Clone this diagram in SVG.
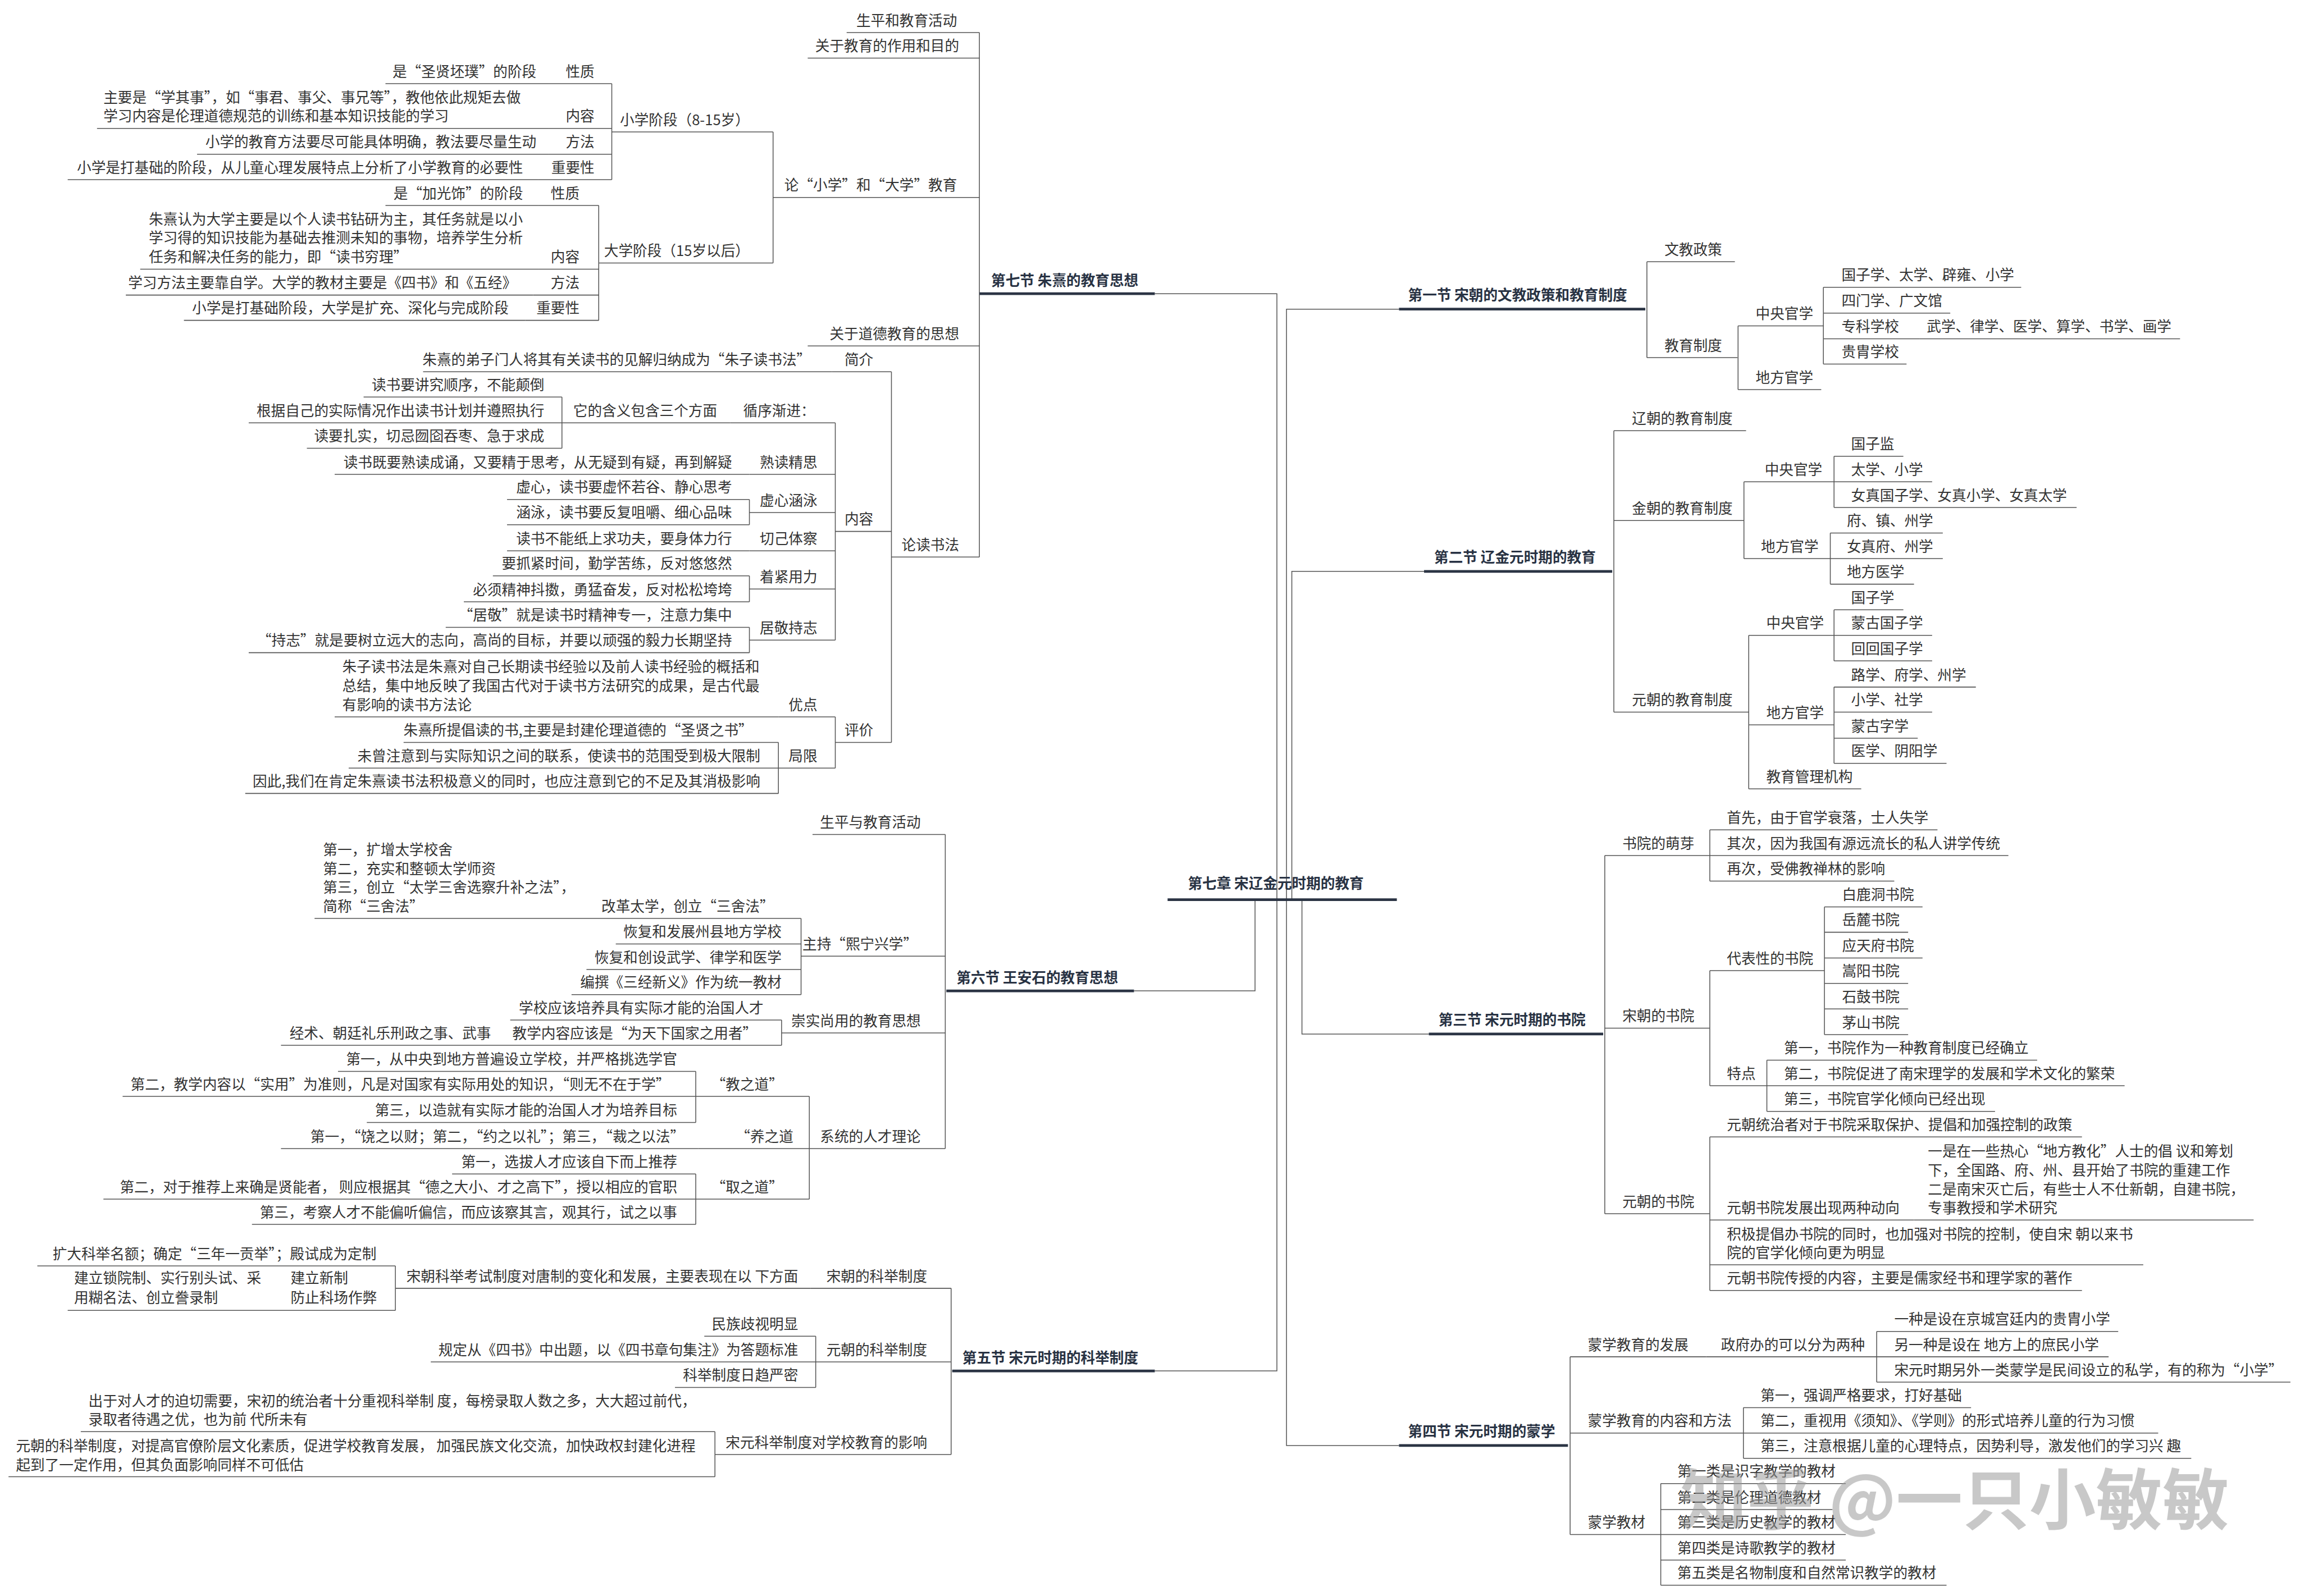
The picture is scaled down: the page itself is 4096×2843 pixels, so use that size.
<svg xmlns="http://www.w3.org/2000/svg" width="4096" height="2843" viewBox="0 0 4096 2843">
<style>
.t{font-family:"Noto Sans CJK SC","Noto Sans",sans-serif;font-size:27px;fill:#333}
.e{text-anchor:end}
.h{font-weight:700;fill:#283243}
.u{stroke:#555;stroke-width:1.6;fill:none}
.k{stroke:#2b3444;stroke-width:5;fill:none}
.c{stroke:#555;stroke-width:1.6;fill:none}
.wm{font-family:"Noto Sans CJK SC",sans-serif;font-size:125px;font-weight:700;fill:#9a9a9a;fill-opacity:0.55}
</style>
<rect width="4096" height="2843" fill="#fff"/>
<g transform="scale(0.94947)">
<g id="connectors">
<path class="c" d="M2166 551H2395V2572H2166"/>
<path class="c" d="M2127 1859H2354V1688"/>
<path class="c" d="M2624 580H2413V2712H2624"/>
<path class="c" d="M2671 1072H2423V1688"/>
<path class="c" d="M2680 1940H2442V1688"/>
<path class="c" d="M3089 491V671M3260 611.5V731M3420 539V683"/>
<path class="c" d="M3027 808V1336M3271 904V1048M3440 856V952M3433 1000V1096M3280 1192V1480M3440 1144V1240M3440 1289V1432"/>
<path class="c" d="M3010 1605V2277M3207 1557V1653M3207 1821V2037M3422 1701.5V1941M3314 1989V2085M3207 2133V2421"/>
<path class="c" d="M2945 2545.5V2879M3520 2498V2593M3270 2641V2736M3115 2783.5V2974"/>
<path class="c" d="M1837 61V1045M1450 247.5V493.5M1147.5 157V337M1123 385.5V601M1672 697.6V1393M1566.7 793.4V1201M1054 745V841M1405.6 937V984.6M1405.6 1080.4V1129M1405.6 1177V1224.5M1566.7 1345V1441M1460 1393V1488.6"/>
<path class="c" d="M1773 1565.6V2155M1502.5 1723V1866M1466 1913.6V1961M1518 2057V2249.6M1305 2010V2106M1305 2202.5V2297"/>
<path class="c" d="M1784 2417V2729M741.6 2375V2458.5M1530 2507V2603M1341 2686V2770.5"/>
</g>

<g id="chapter"><path class="k" d="M2190 1688H2620"/><text class="t h" x="2228" y="1667" font-size="29">第七章 宋辽金元时期的教育</text></g>

<g id="s1"><path class="k" d="M2624 580H3086"/><text class="t h" x="2641" y="563">第一节 宋朝的文教政策和教育制度</text></g>
<g id="s2"><path class="k" d="M2671 1072H3024"/><text class="t h" x="2690" y="1055">第二节 辽金元时期的教育</text></g>
<g id="s3"><path class="k" d="M2680 1940H3007"/><text class="t h" x="2698" y="1923">第三节 宋元时期的书院</text></g>
<g id="s4"><path class="k" d="M2624 2712H2941"/><text class="t h" x="2641" y="2695">第四节 宋元时期的蒙学</text></g>
<g id="s7"><path class="k" d="M1837 551H2166"/><text class="t h" x="1859" y="536">第七节 朱熹的教育思想</text></g>
<g id="s6"><path class="k" d="M1775 1859H2127"/><text class="t h" x="1794" y="1844">第六节 王安石的教育思想</text></g>
<g id="s5"><path class="k" d="M1786 2572H2166"/><text class="t h" x="1805" y="2557">第五节 宋元时期的科举制度</text></g>

<g id="r01"><path class="u" d="M3089 491H3254"/><text class="t" x="3122" y="478">文教政策</text></g>
<g id="r02"><path class="u" d="M3089 671H3259"/><text class="t" x="3122" y="658">教育制度</text></g>
<g id="r03"><path class="u" d="M3260 611.5H3420"/><text class="t" x="3293" y="598.5">中央官学</text></g>
<g id="r04"><path class="u" d="M3420 539H3791"/><text class="t" x="3454" y="526">国子学、太学、辟雍、小学</text></g>
<g id="r05"><path class="u" d="M3420 587.5H3658"/><text class="t" x="3454" y="574.5">四门学、广文馆</text></g>
<g id="r06"><path class="u" d="M3420 635.5H3600"/><text class="t" x="3454" y="622.5">专科学校</text></g>
<g id="r06a"><path class="u" d="M3600 635.5H4089"/><text class="t" x="3614" y="622.5">武学、律学、医学、算学、书学、画学</text></g>
<g id="r07"><path class="u" d="M3420 683H3576"/><text class="t" x="3454" y="670">贵胄学校</text></g>
<g id="r08"><path class="u" d="M3260 731H3416"/><text class="t" x="3293" y="718">地方官学</text></g>

<g id="r09"><path class="u" d="M3027 808H3275"/><text class="t" x="3061" y="795">辽朝的教育制度</text></g>
<g id="r10"><path class="u" d="M3027 976.5H3271"/><text class="t" x="3061" y="963.5">金朝的教育制度</text></g>
<g id="r11"><path class="u" d="M3271 904H3440"/><text class="t" x="3310" y="891">中央官学</text></g>
<g id="r12"><path class="u" d="M3440 856H3570"/><text class="t" x="3472" y="843">国子监</text></g>
<g id="r13"><path class="u" d="M3440 904H3624"/><text class="t" x="3472" y="891">太学、小学</text></g>
<g id="r14"><path class="u" d="M3440 952H3895"/><text class="t" x="3472" y="939">女真国子学、女真小学、女真太学</text></g>
<g id="r15"><path class="u" d="M3271 1048H3433"/><text class="t" x="3303" y="1035">地方官学</text></g>
<g id="r16"><path class="u" d="M3433 1000H3644"/><text class="t" x="3464" y="987">府、镇、州学</text></g>
<g id="r17"><path class="u" d="M3433 1048H3644"/><text class="t" x="3464" y="1035">女真府、州学</text></g>
<g id="r18"><path class="u" d="M3433 1096H3590"/><text class="t" x="3464" y="1083">地方医学</text></g>
<g id="r19"><path class="u" d="M3027 1336H3280"/><text class="t" x="3061" y="1323">元朝的教育制度</text></g>
<g id="r20"><path class="u" d="M3280 1192H3440"/><text class="t" x="3313" y="1179">中央官学</text></g>
<g id="r21"><path class="u" d="M3440 1144H3570"/><text class="t" x="3472" y="1131">国子学</text></g>
<g id="r22"><path class="u" d="M3440 1192H3624"/><text class="t" x="3472" y="1179">蒙古国子学</text></g>
<g id="r23"><path class="u" d="M3440 1240H3624"/><text class="t" x="3472" y="1227">回回国子学</text></g>
<g id="r24"><path class="u" d="M3280 1360H3440"/><text class="t" x="3313" y="1347">地方官学</text></g>
<g id="r25"><path class="u" d="M3440 1289H3706"/><text class="t" x="3472" y="1276">路学、府学、州学</text></g>
<g id="r26"><path class="u" d="M3440 1336H3624"/><text class="t" x="3472" y="1323">小学、社学</text></g>
<g id="r27"><path class="u" d="M3440 1385H3597"/><text class="t" x="3472" y="1372">蒙古字学</text></g>
<g id="r28"><path class="u" d="M3440 1432H3651"/><text class="t" x="3472" y="1419">医学、阴阳学</text></g>
<g id="r29"><path class="u" d="M3280 1480H3491"/><text class="t" x="3313" y="1467">教育管理机构</text></g>

<g id="r30"><path class="u" d="M3010 1605H3207"/><text class="t" x="3043" y="1592">书院的萌芽</text></g>
<g id="r31"><path class="u" d="M3207 1557H3634"/><text class="t" x="3239" y="1544">首先，由于官学衰落，士人失学</text></g>
<g id="r32"><path class="u" d="M3207 1605H3767"/><text class="t" x="3239" y="1592">其次，因为我国有源远流长的私人讲学传统</text></g>
<g id="r33"><path class="u" d="M3207 1653H3553"/><text class="t" x="3239" y="1640">再次，受佛教禅林的影响</text></g>
<g id="r34"><path class="u" d="M3010 1929H3207"/><text class="t" x="3043" y="1916">宋朝的书院</text></g>
<g id="r35"><path class="u" d="M3207 1821H3422"/><text class="t" x="3239" y="1808">代表性的书院</text></g>
<g id="r36"><path class="u" d="M3422 1701.5H3606"/><text class="t" x="3455" y="1688.5">白鹿洞书院</text></g>
<g id="r37"><path class="u" d="M3422 1749H3579"/><text class="t" x="3455" y="1736">岳麓书院</text></g>
<g id="r38"><path class="u" d="M3422 1797.4H3606"/><text class="t" x="3455" y="1784.4">应天府书院</text></g>
<g id="r39"><path class="u" d="M3422 1845H3579"/><text class="t" x="3455" y="1832">嵩阳书院</text></g>
<g id="r40"><path class="u" d="M3422 1893H3579"/><text class="t" x="3455" y="1880">石鼓书院</text></g>
<g id="r41"><path class="u" d="M3422 1941H3579"/><text class="t" x="3455" y="1928">茅山书院</text></g>
<g id="r42"><path class="u" d="M3207 2037H3314"/><text class="t" x="3239" y="2024">特点</text></g>
<g id="r43"><path class="u" d="M3314 1989H3821"/><text class="t" x="3346" y="1976">第一，书院作为一种教育制度已经确立</text></g>
<g id="r44"><path class="u" d="M3314 2037H3985"/><text class="t" x="3346" y="2024">第二，书院促进了南宋理学的发展和学术文化的繁荣</text></g>
<g id="r45"><path class="u" d="M3314 2085H3742"/><text class="t" x="3346" y="2072">第三，书院官学化倾向已经出现</text></g>
<g id="r46"><path class="u" d="M3010 2277H3207"/><text class="t" x="3043" y="2264">元朝的书院</text></g>
<g id="r47"><path class="u" d="M3207 2133H3905"/><text class="t" x="3239" y="2120">元朝统治者对于书院采取保护、提倡和加强控制的政策</text></g>
<g id="r48"><path class="u" d="M3207 2289H3590"/><text class="t" x="3239" y="2276">元朝书院发展出现两种动向</text></g>
<g id="r48a"><path class="u" d="M3590 2289H4227"/><text class="t" x="3616"><tspan x="3616" y="2170">一是在一些热心“地方教化”人士的倡 议和筹划</tspan><tspan x="3616" y="2205.5">下，全国路、府、州、县开始了书院的重建工作</tspan><tspan x="3616" y="2241">二是南宋灭亡后，有些士人不仕新朝，自建书院，</tspan><tspan x="3616" y="2276.5">专事教授和学术研究</tspan></text></g>
<g id="r49"><path class="u" d="M3207 2373H4020"/><text class="t"><tspan x="3239" y="2325">积极提倡办书院的同时，也加强对书院的控制，使自宋 朝以来书</tspan><tspan x="3239" y="2360">院的官学化倾向更为明显</tspan></text></g>
<g id="r50"><path class="u" d="M3207 2421H3905"/><text class="t" x="3239" y="2408">元朝书院传授的内容，主要是儒家经书和理学家的著作</text></g>

<g id="r51"><path class="u" d="M2945 2545.5H3200"/><text class="t" x="2978" y="2532.5">蒙学教育的发展</text></g>
<g id="r51a"><path class="u" d="M3200 2545.5H3520"/><text class="t" x="3228" y="2532.5">政府办的可以分为两种</text></g>
<g id="r52"><path class="u" d="M3520 2498H3973"/><text class="t" x="3553" y="2485">一种是设在京城宫廷内的贵胄小学</text></g>
<g id="r53"><path class="u" d="M3520 2545.5H3955"/><text class="t" x="3553" y="2532.5">另一种是设在 地方上的庶民小学</text></g>
<g id="r54"><path class="u" d="M3520 2593H4296"/><text class="t" x="3553" y="2580">宋元时期另外一类蒙学是民间设立的私学，有的称为“小学”</text></g>
<g id="r55"><path class="u" d="M2945 2688.5H3270"/><text class="t" x="2978" y="2675.5">蒙学教育的内容和方法</text></g>
<g id="r56"><path class="u" d="M3270 2641H3697"/><text class="t" x="3302" y="2628">第一，强调严格要求，打好基础</text></g>
<g id="r57"><path class="u" d="M3270 2688.5H4048"/><text class="t" x="3302" y="2675.5">第二，重视用《须知》、《学则》的形式培养儿童的行为习惯</text></g>
<g id="r58"><path class="u" d="M3270 2736H4110"/><text class="t" x="3302" y="2723">第三，注意根据儿童的心理特点，因势利导，激发他们的学习兴 趣</text></g>
<g id="r59"><path class="u" d="M2945 2879H3115"/><text class="t" x="2978" y="2866">蒙学教材</text></g>
<g id="r60"><path class="u" d="M3115 2783.5H3462"/><text class="t" x="3146" y="2770.5">第一类是识字教学的教材</text></g>
<g id="r61"><path class="u" d="M3115 2832H3437"/><text class="t" x="3146" y="2819">第二类是伦理道德教材</text></g>
<g id="r62"><path class="u" d="M3115 2879H3462"/><text class="t" x="3146" y="2866">第三类是历史教学的教材</text></g>
<g id="r63"><path class="u" d="M3115 2927H3462"/><text class="t" x="3146" y="2914">第四类是诗歌教学的教材</text></g>
<g id="r64"><path class="u" d="M3115 2974H3651"/><text class="t" x="3146" y="2961">第五类是名物制度和自然常识教学的教材</text></g>

<g id="l01"><path class="u" d="M1588 61H1837"/><text class="t e" x="1795" y="48">生平和教育活动</text></g>
<g id="l02"><path class="u" d="M1515 109H1837"/><text class="t e" x="1799" y="96">关于教育的作用和目的</text></g>
<g id="l03"><path class="u" d="M1450 370.5H1837"/><text class="t e" x="1795" y="357.5">论“小学”和“大学”教育</text></g>
<g id="l04"><path class="u" d="M1147.5 247.5H1450"/><text class="t e" x="1406" y="234.5">小学阶段（8-15岁）</text></g>
<g id="l05"><path class="u" d="M1030 157H1147.5"/><text class="t e" x="1115" y="144">性质</text></g>
<g id="l05a"><path class="u" d="M723 157H1030"/><text class="t e" x="1006" y="144">是“圣贤坯璞”的阶段</text></g>
<g id="l06"><path class="u" d="M1030 241H1147.5"/><text class="t e" x="1115" y="228">内容</text></g>
<g id="l06a"><path class="u" d="M182 241H1030"/><text class="t"><tspan x="194" y="193">主要是“学其事”，如“事君、事父、事兄等”，教他依此规矩去做</tspan><tspan x="194" y="228">学习内容是伦理道德规范的训练和基本知识技能的学习</tspan></text></g>
<g id="l07"><path class="u" d="M1030 289.4H1147.5"/><text class="t e" x="1115" y="276.4">方法</text></g>
<g id="l07a"><path class="u" d="M369.6 289.4H1030"/><text class="t e" x="1006" y="276.4">小学的教育方法要尽可能具体明确，教法要尽量生动</text></g>
<g id="l08"><path class="u" d="M1010 337H1147.5"/><text class="t e" x="1115" y="324">重要性</text></g>
<g id="l08a"><path class="u" d="M127 337H1010"/><text class="t e" x="981" y="324">小学是打基础的阶段，从儿童心理发展特点上分析了小学教育的必要性</text></g>
<g id="l09"><path class="u" d="M1123 493.5H1450"/><text class="t e" x="1406" y="480.5">大学阶段（15岁以后）</text></g>
<g id="l10"><path class="u" d="M1010 385.5H1123"/><text class="t e" x="1087" y="372.5">性质</text></g>
<g id="l10a"><path class="u" d="M723 385.5H1010"/><text class="t e" x="981" y="372.5">是“加光饰”的阶段</text></g>
<g id="l11"><path class="u" d="M1010 505H1123"/><text class="t e" x="1087" y="492">内容</text></g>
<g id="l11a"><path class="u" d="M263 505H1010"/><text class="t"><tspan x="279" y="421">朱熹认为大学主要是以个人读书钻研为主，其任务就是以小</tspan><tspan x="279" y="456.5">学习得的知识技能为基础去推测未知的事物，培养学生分析</tspan><tspan x="279" y="492">任务和解决任务的能力，即“读书穷理”</tspan></text></g>
<g id="l12"><path class="u" d="M1000 553.6H1123"/><text class="t e" x="1087" y="540.6">方法</text></g>
<g id="l12a"><path class="u" d="M236 553.6H1000"/><text class="t e" x="969" y="540.6">学习方法主要靠自学。大学的教材主要是《四书》和《五经》</text></g>
<g id="l13"><path class="u" d="M985 601H1123"/><text class="t e" x="1087" y="588">重要性</text></g>
<g id="l13a"><path class="u" d="M345 601H985"/><text class="t e" x="954" y="588">小学是打基础阶段，大学是扩充、深化与完成阶段</text></g>
<g id="l14"><path class="u" d="M1515 649H1837"/><text class="t e" x="1799" y="636">关于道德教育的思想</text></g>
<g id="l15"><path class="u" d="M1672 1045H1837"/><text class="t e" x="1799" y="1032">论读书法</text></g>
<g id="l16"><path class="u" d="M1560 697.6H1672"/><text class="t e" x="1638" y="684.6">简介</text></g>
<g id="l16a"><path class="u" d="M793.6 697.6H1560"/><text class="t e" x="1521" y="684.6">朱熹的弟子门人将其有关读书的见解归纳成为“朱子读书法”</text></g>
<g id="l17"><path class="u" d="M1566.7 997H1672"/><text class="t e" x="1638" y="984">内容</text></g>
<g id="l18"><path class="u" d="M1370 793.4H1566.7"/><text class="t e" x="1529" y="780.4">循序渐进：</text></g>
<g id="l18a"><path class="u" d="M1054 793.4H1370"/><text class="t e" x="1345" y="780.4">它的含义包含三个方面</text></g>
<g id="l19"><path class="u" d="M682 745H1054"/><text class="t e" x="1021" y="732">读书要讲究顺序，不能颠倒</text></g>
<g id="l20"><path class="u" d="M466.5 793.4H1054"/><text class="t e" x="1021" y="780.4">根据自己的实际情况作出读书计划并遵照执行</text></g>
<g id="l21"><path class="u" d="M575.6 841H1054"/><text class="t e" x="1021" y="828">读要扎实，切忌囫囵吞枣、急于求成</text></g>
<g id="l22"><path class="u" d="M1405.6 890H1566.7"/><text class="t e" x="1533" y="877">熟读精思</text></g>
<g id="l22a"><path class="u" d="M627.7 890H1405.6"/><text class="t e" x="1373" y="877">读书既要熟读成诵，又要精于思考，从无疑到有疑，再到解疑</text></g>
<g id="l23"><path class="u" d="M1405.6 961.6H1566.7"/><text class="t e" x="1533" y="948.6">虚心涵泳</text></g>
<g id="l24"><path class="u" d="M951 937H1405.6"/><text class="t e" x="1373" y="924">虚心，读书要虚怀若谷、静心思考</text></g>
<g id="l25"><path class="u" d="M951 984.6H1405.6"/><text class="t e" x="1373" y="971.6">涵泳，读书要反复咀嚼、细心品味</text></g>
<g id="l26"><path class="u" d="M1405.6 1033.4H1566.7"/><text class="t e" x="1533" y="1020.4">切己体察</text></g>
<g id="l26a"><path class="u" d="M951 1033.4H1405.6"/><text class="t e" x="1373" y="1020.4">读书不能纸上求功夫，要身体力行</text></g>
<g id="l27"><path class="u" d="M1405.6 1105H1566.7"/><text class="t e" x="1533" y="1092">着紧用力</text></g>
<g id="l28"><path class="u" d="M924.5 1080.4H1405.6"/><text class="t e" x="1373" y="1067.4">要抓紧时间，勤学苦练，反对悠悠然</text></g>
<g id="l29"><path class="u" d="M870 1129H1405.6"/><text class="t e" x="1373" y="1116">必须精神抖擞，勇猛奋发，反对松松垮垮</text></g>
<g id="l30"><path class="u" d="M1405.6 1201H1566.7"/><text class="t e" x="1533" y="1188">居敬持志</text></g>
<g id="l31"><path class="u" d="M836 1177H1405.6"/><text class="t e" x="1373" y="1164">“居敬”就是读书时精神专一，注意力集中</text></g>
<g id="l32"><path class="u" d="M466.5 1224.5H1405.6"/><text class="t e" x="1373" y="1211.5">“持志”就是要树立远大的志向，高尚的目标，并要以顽强的毅力长期坚持</text></g>
<g id="l33"><path class="u" d="M1566.7 1393H1672"/><text class="t e" x="1638" y="1380">评价</text></g>
<g id="l34"><path class="u" d="M1460 1345H1566.7"/><text class="t e" x="1533" y="1332">优点</text></g>
<g id="l34a"><path class="u" d="M627.7 1345H1460"/><text class="t"><tspan x="642" y="1261">朱子读书法是朱熹对自己长期读书经验以及前人读书经验的概括和</tspan><tspan x="642" y="1296.5">总结，集中地反映了我国古代对于读书方法研究的成果，是古代最</tspan><tspan x="642" y="1332">有影响的读书方法论</tspan></text></g>
<g id="l35"><path class="u" d="M1460 1441H1566.7"/><text class="t e" x="1533" y="1428">局限</text></g>
<g id="l36"><path class="u" d="M757 1393H1460"/><text class="t e" x="1412" y="1380">朱熹所提倡读的书,主要是封建伦理道德的“圣贤之书”</text></g>
<g id="l37"><path class="u" d="M654 1441H1460"/><text class="t e" x="1426" y="1428">未曾注意到与实际知识之间的联系，使读书的范围受到极大限制</text></g>
<g id="l38"><path class="u" d="M460 1488.6H1460"/><text class="t e" x="1426" y="1475.6">因此,我们在肯定朱熹读书法积极意义的同时，也应注意到它的不足及其消极影响</text></g>

<g id="l39"><path class="u" d="M1524 1565.6H1773"/><text class="t e" x="1727" y="1552.6">生平与教育活动</text></g>
<g id="l40"><path class="u" d="M1502.5 1794H1773"/><text class="t e" x="1721" y="1781">主持“熙宁兴学”</text></g>
<g id="l41"><path class="u" d="M590 1723H1502.5"/><text class="t e" x="1452" y="1710">改革太学，创立“三舍法”</text><text class="t"><tspan x="606" y="1604">第一，扩增太学校舍</tspan><tspan x="606" y="1639.5">第二，充实和整顿太学师资</tspan><tspan x="606" y="1675">第三，创立“太学三舍选察升补之法”，</tspan><tspan x="606" y="1710">简称“三舍法”</tspan></text></g>
<g id="l42"><path class="u" d="M1155 1771H1502.5"/><text class="t e" x="1466" y="1758">恢复和发展州县地方学校</text></g>
<g id="l43"><path class="u" d="M1100 1819H1502.5"/><text class="t e" x="1466" y="1806">恢复和创设武学、律学和医学</text></g>
<g id="l44"><path class="u" d="M1072 1866H1502.5"/><text class="t e" x="1466" y="1853">编撰《三经新义》作为统一教材</text></g>
<g id="l45"><path class="u" d="M1466 1938H1773"/><text class="t e" x="1727" y="1925">崇实尚用的教育思想</text></g>
<g id="l46"><path class="u" d="M957 1913.6H1466"/><text class="t e" x="1432" y="1900.6">学校应该培养具有实际才能的治国人才</text></g>
<g id="l47"><path class="u" d="M950 1961H1466"/><text class="t e" x="1420" y="1948">教学内容应该是“为天下国家之用者”</text></g>
<g id="l47a"><path class="u" d="M527 1961H950"/><text class="t e" x="921" y="1948">经术、朝廷礼乐刑政之事、武事</text></g>
<g id="l48"><path class="u" d="M1518 2155H1773"/><text class="t e" x="1727" y="2142">系统的人才理论</text></g>
<g id="l49"><path class="u" d="M1305 2057H1518"/><text class="t e" x="1469" y="2044">“教之道”</text></g>
<g id="l50"><path class="u" d="M634 2010H1305"/><text class="t e" x="1270" y="1997">第一，从中央到地方普遍设立学校，并严格挑选学官</text></g>
<g id="l51"><path class="u" d="M230 2057H1305"/><text class="t e" x="1257" y="2044">第二，教学内容以“实用”为准则，凡是对国家有实际用处的知识，“则无不在于学”</text></g>
<g id="l52"><path class="u" d="M688 2106H1305"/><text class="t e" x="1270" y="2093">第三，以造就有实际才能的治国人才为培养目标</text></g>
<g id="l53"><path class="u" d="M1310 2155H1518"/><text class="t e" x="1488" y="2142">“养之道</text></g>
<g id="l53a"><path class="u" d="M527 2155H1310"/><text class="t e" x="1284" y="2142">第一，“饶之以财；第二，“约之以礼”；第三，“裁之以法”</text></g>
<g id="l54"><path class="u" d="M1305 2249.6H1518"/><text class="t e" x="1469" y="2236.6">“取之道”</text></g>
<g id="l55"><path class="u" d="M848 2202.5H1305"/><text class="t e" x="1270" y="2189.5">第一，选拔人才应该自下而上推荐</text></g>
<g id="l56"><path class="u" d="M194 2249.6H1305"/><text class="t e" x="1270" y="2236.6">第二，对于推荐上来确是贤能者， 则应根据其“德之大小、才之高下”，授以相应的官职</text></g>
<g id="l57"><path class="u" d="M472.6 2297H1305"/><text class="t e" x="1270" y="2284">第三，考察人才不能偏听偏信，而应该察其言，观其行，试之以事</text></g>

<g id="l58"><path class="u" d="M1520 2417H1784"/><text class="t e" x="1739" y="2404">宋朝的科举制度</text></g>
<g id="l58a"><path class="u" d="M741.6 2417H1520"/><text class="t e" x="1497" y="2404">宋朝科举考试制度对唐制的变化和发展，主要表现在以 下方面</text></g>
<g id="l59"><path class="u" d="M70 2375H741.6"/><text class="t e" x="706" y="2362">扩大科举名额；确定“三年一贡举”；殿试成为定制</text></g>
<g id="l60"><path class="u" d="M127 2458.5H741.6"/><text class="t"><tspan x="545" y="2408">建立新制</tspan><tspan x="545" y="2445">防止科场作弊</tspan></text><text class="t"><tspan x="139" y="2408">建立锁院制、实行别头试、采</tspan><tspan x="139" y="2445">用糊名法、创立誊录制</tspan></text></g>
<g id="l61"><path class="u" d="M1530 2555H1784"/><text class="t e" x="1739" y="2542">元朝的科举制度</text></g>
<g id="l62"><path class="u" d="M1321 2507H1530"/><text class="t e" x="1497" y="2494">民族歧视明显</text></g>
<g id="l63"><path class="u" d="M808 2555H1530"/><text class="t e" x="1497" y="2542">规定从《四书》中出题，以《四书章句集注》为答题标准</text></g>
<g id="l64"><path class="u" d="M1266 2603H1530"/><text class="t e" x="1497" y="2590">科举制度日趋严密</text></g>
<g id="l65"><path class="u" d="M1341 2729H1784"/><text class="t e" x="1739" y="2716">宋元科举制度对学校教育的影响</text></g>
<g id="l66"><path class="u" d="M151.5 2686H1341"/><text class="t"><tspan x="166" y="2638">出于对人才的迫切需要，宋初的统治者十分重视科举制 度，每榜录取人数之多，大大超过前代，</tspan><tspan x="166" y="2673">录取者待遇之优，也为前 代所未有</tspan></text></g>
<g id="l67"><path class="u" d="M16 2770.5H1341"/><text class="t"><tspan x="30" y="2723">元朝的科举制度，对提高官僚阶层文化素质，促进学校教育发展， 加强民族文化交流，加快政权封建化进程</tspan><tspan x="30" y="2758">起到了一定作用，但其负面影响同样不可低估</tspan></text></g>

<g id="watermark"><text class="wm" x="3152" y="2859">知乎 @一只小敏敏</text></g>
</g>
</svg>
